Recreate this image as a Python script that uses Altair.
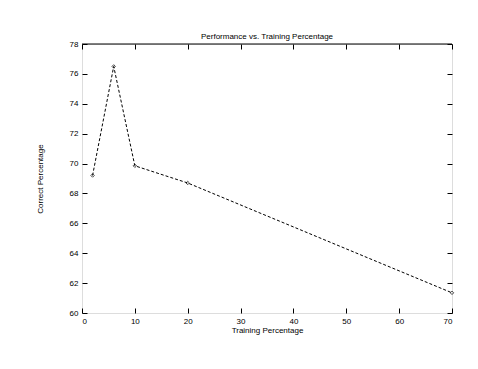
import altair as alt
import pandas as pd

train_pct = [2, 6, 10, 20, 70]
correct_pct = [69.2, 76.5, 69.85, 68.7, 61.35]
x_ticks = [0, 10, 20, 30, 40, 50, 60, 70]
y_ticks = [60, 62, 64, 66, 68, 70, 72, 74, 76, 78]

df = pd.DataFrame({"x": train_pct, "y": correct_pct})

FONT = "Liberation Sans"
xs = alt.Scale(domain=[0, 70], nice=False, zero=False)
ys = alt.Scale(domain=[60, 78], nice=False, zero=False)

ax_common = dict(domain=False, grid=False, tickSize=5, tickColor="black",
                 tickWidth=1, offset=-5, labelFont=FONT, labelFontSize=8,
                 labelColor="black")
title_common = dict(titleFont=FONT, titleFontSize=8, titleColor="black",
                    titleFontWeight="normal")

line = alt.Chart(df).mark_line(color="black", strokeWidth=1, strokeDash=[3, 2]).encode(
    x=alt.X("x:Q", scale=xs, title="Training Percentage",
            axis=alt.Axis(orient="bottom", values=x_ticks, labelPadding=4,
                          titlePadding=1, **ax_common, **title_common)),
    y=alt.Y("y:Q", scale=ys, title="Correct Percentage",
            axis=alt.Axis(orient="left", values=y_ticks, labelPadding=4,
                          titlePadding=25, **ax_common, **title_common)),
)

pts = alt.Chart(df).mark_point(color="black", size=12, strokeWidth=1, shape="diamond").encode(
    x=alt.X("x:Q", scale=xs,
            axis=alt.Axis(orient="top", values=x_ticks, labels=False, title=None, **ax_common)),
    y=alt.Y("y:Q", scale=ys,
            axis=alt.Axis(orient="right", values=y_ticks, labels=False, title=None, **ax_common)),
)

border = alt.Chart(pd.DataFrame({"x0": [0], "x1": [70], "yy": [78]})).mark_rule(
    color="black", strokeWidth=1).encode(
    x=alt.X("x0:Q", scale=xs, axis=None), x2="x1:Q", y=alt.Y("yy:Q", scale=ys, axis=None))

chart = alt.layer(line, pts, border).resolve_axis(x="independent", y="independent").properties(
    width=370, height=269,
    title=alt.TitleParams("Performance vs. Training Percentage", font=FONT, fontSize=8,
                          fontWeight="normal", color="black", offset=-1),
    padding={"left": 74, "top": 36, "right": 16, "bottom": 40},
    autosize=alt.AutoSizeParams(type="none"),
).configure_view(stroke=None).configure(background="white")

chart.save("out.html", embed_options={"renderer": "svg", "actions": False})
